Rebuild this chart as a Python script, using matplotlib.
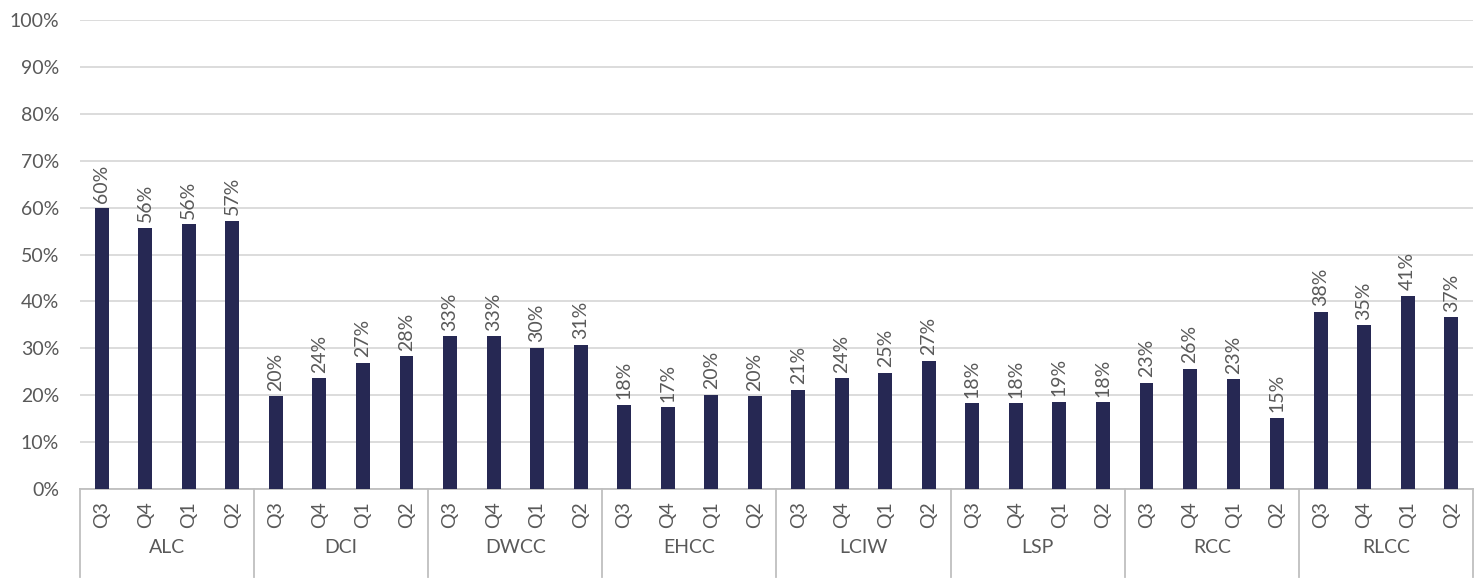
import matplotlib.pyplot as plt
import matplotlib.transforms as mtransforms
import numpy as np

plt.rcParams['font.family'] = ['Lato', 'DejaVu Sans']

# data
groups = ['ALC', 'DCI', 'DWCC', 'EHCC', 'LCIW', 'LSP', 'RCC', 'RLCC']
quarters = ['Q3', 'Q4', 'Q1', 'Q2']
alc = [59.9, 55.7, 56.4, 57.2]
dci = [19.8, 23.6, 26.9, 28.3]
dwcc = [32.6, 32.6, 30.1, 30.8]
ehcc = [17.9, 17.4, 20.1, 19.8]
lciw = [21.2, 23.6, 24.8, 27.3]
lsp = [18.3, 18.3, 18.6, 18.5]
rcc = [22.7, 25.6, 23.4, 15.2]
rlcc = [37.8, 34.9, 41.2, 36.6]

values = alc + dci + dwcc + ehcc + lciw + lsp + rcc + rlcc
labels = quarters * len(groups)

grey = '#595959'
bar_color = '#262853'
fs = 14

fig = plt.figure(figsize=(14.79, 5.85), dpi=100)
ax = fig.add_axes([0.0541, 0.1641, 0.9418, 0.8017])

x = np.arange(len(values))
bars = ax.bar(x, values, width=0.32, color=bar_color, zorder=3)

for xi, v in zip(x, values):
    ax.annotate(f'{round(v)}%', (xi, v), xytext=(0, 4), textcoords='offset points',
                rotation=90, ha='center', va='bottom', fontsize=fs, color=grey)

ax.set_xlim(-0.5, len(values) - 0.5)
ax.set_ylim(0, 100)
ax.set_yticks(np.arange(0, 101, 10))
ax.set_yticklabels([f'{t}%' for t in range(0, 101, 10)])
ax.yaxis.grid(True, color='#D9D9D9', linewidth=1.3, zorder=0)
ax.set_axisbelow(True)

ax.set_xticks(x)
ax.set_xticklabels(labels, rotation=90)
ax.tick_params(axis='x', length=0, pad=9, labelsize=fs, labelcolor=grey)
ax.tick_params(axis='y', length=0, pad=15, labelsize=fs, labelcolor=grey)

for s in ['top', 'right', 'left']:
    ax.spines[s].set_visible(False)
ax.spines['bottom'].set_color('#BFBFBF')
ax.spines['bottom'].set_linewidth(1.3)

trans = mtransforms.blended_transform_factory(ax.transData, ax.transAxes)
n = len(quarters)
for i, g in enumerate(groups):
    ax.text(i * n + (n - 1) / 2, -0.125, g, transform=trans, ha='center', va='center',
            fontsize=fs, color=grey)
for i in range(len(groups) + 1):
    xs = i * n - 0.5
    ax.plot([xs, xs], [0, -0.188], transform=trans, color='#BFBFBF', lw=1.3, clip_on=False)

fig.savefig('out.png', dpi=100)
